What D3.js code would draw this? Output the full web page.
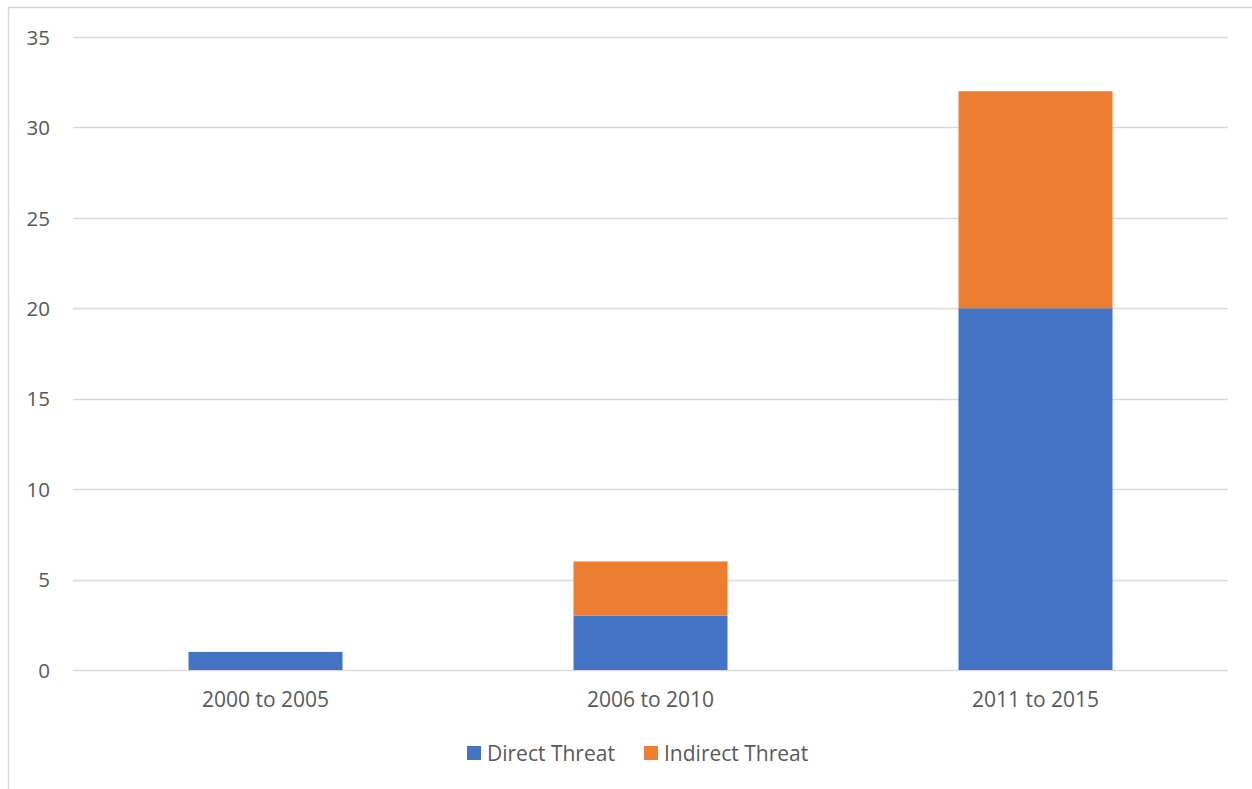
<!DOCTYPE html>
<html><head><meta charset="utf-8">
<script src="https://cdn.jsdelivr.net/npm/d3@7"></script>
<style>body{margin:0;background:#fff;} svg{display:block;}</style>
</head><body>
<svg id="c" width="1252" height="789"></svg>
<script>
const categories = ["2000 to 2005", "2006 to 2010", "2011 to 2015"];
const directThreat = [1, 3, 20];
const indirectThreat = [0, 3, 12];
const yTicks = [0, 5, 10, 15, 20, 25, 30, 35];
const seriesNames = ["Direct Threat", "Indirect Threat"];
const colors = ["#4472C4", "#ED7D31"];

(function () {
const svg = d3.select("#c");
const font = "'Open Sans', sans-serif";
const textColor = "#595959";
const grid = "#d9d9d9";

// chart border
svg.append("rect").attr("x", 8.5).attr("y", 7.5).attr("width", 1300).attr("height", 900)
  .attr("fill", "none").attr("stroke", grid).attr("stroke-width", 1.5);

const pLeft = 73, pRight = 1228, pTop = 37, pBottom = 670;
const x = d3.scaleBand().domain(categories).range([pLeft, pRight]).paddingInner(0.6).paddingOuter(0.3);
const y = d3.scaleLinear().domain([0, 35]).range([pBottom, pTop]);

// gridlines
svg.append("g").selectAll("line").data(yTicks).join("line")
  .attr("x1", pLeft).attr("x2", pRight)
  .attr("y1", d => Math.round(y(d)) + 0.5).attr("y2", d => Math.round(y(d)) + 0.5)
  .attr("stroke", grid).attr("stroke-width", 1.3);

// y axis labels
const yAxis = d3.axisLeft(y).tickValues(yTicks).tickSize(0).tickPadding(0);
const gy = svg.append("g").attr("transform", `translate(50,0)`).call(yAxis);
gy.select(".domain").remove();
gy.selectAll("text").attr("font-family", font).attr("font-size", 20.5).attr("fill", textColor)
  .attr("dy", "0.35em");

// stacked bars
const rows = categories.map((c, i) => ({cat: c, "Direct Threat": directThreat[i], "Indirect Threat": indirectThreat[i]}));
const stack = d3.stack().keys(seriesNames)(rows);
svg.append("g").selectAll("g").data(stack).join("g")
  .attr("fill", (d, i) => colors[i])
  .selectAll("rect").data(d => d).join("rect")
  .attr("x", d => x(d.data.cat))
  .attr("width", x.bandwidth())
  .attr("y", d => y(d[1]))
  .attr("height", d => y(d[0]) - y(d[1]));

// x axis labels
const xAxis = d3.axisBottom(x).tickSize(0).tickPadding(0);
const gx = svg.append("g").attr("transform", `translate(0,${pBottom})`).call(xAxis);
gx.select(".domain").remove();
gx.selectAll("text").attr("font-family", font).attr("font-size", 21).attr("fill", textColor)
  .attr("y", 37).attr("dy", 0);

// legend
const legendItems = [{name: seriesNames[0], x: 467, color: colors[0]}, {name: seriesNames[1], x: 644, color: colors[1]}];
const lg = svg.append("g").selectAll("g").data(legendItems).join("g")
  .attr("transform", d => `translate(${d.x},746)`);
lg.append("rect").attr("width", 14).attr("height", 14).attr("fill", d => d.color);
lg.append("text").attr("x", 20).attr("y", 15).text(d => d.name)
  .attr("font-family", font).attr("font-size", 21).attr("fill", textColor);
})();
</script>
</body></html>
